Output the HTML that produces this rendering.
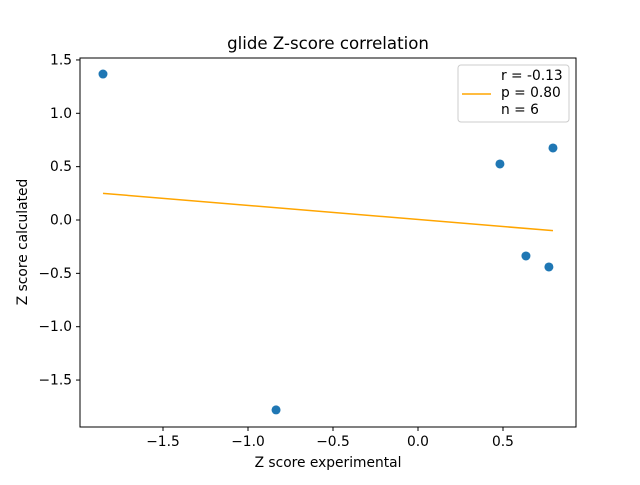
<!DOCTYPE html>
<html><head><meta charset="utf-8"><style>body{margin:0;background:#fff}svg{font-family:"DejaVu Sans","Liberation Sans",sans-serif}</style></head>
<body>
<svg id="chart" width="640" height="480">
<rect width="640" height="480" fill="#fff"/>
<text x="328" y="49" font-size="16.6" text-anchor="middle">glide Z-score correlation</text>
<g id="plot"></g>
<rect x="80" y="58" width="496" height="369" fill="none" stroke="#000" stroke-width="1"/>
<text x="328" y="467" font-size="13.8" text-anchor="middle">Z score experimental</text>
<text transform="translate(27,242) rotate(-90)" font-size="13.8" text-anchor="middle">Z score calculated</text>
<g>
<rect x="458" y="65" width="111" height="57" rx="3" fill="#fff" stroke="#ccc"/>
<line x1="462" y1="94" x2="491" y2="94" stroke="orange" stroke-width="1.5"/>
<text x="501" y="80" font-size="13.8">r = -0.13</text>
<text x="501" y="97" font-size="13.8">p = 0.80</text>
<text x="501" y="114" font-size="13.8">n = 6</text>
</g>
</svg>
<script>
const xs = [-1.853, -0.835, 0.482, 0.635, 0.77, 0.794];
const ys = [1.368, -1.78, 0.525, -0.337, -0.44, 0.675];
const fitX = [-1.853, 0.794];
const fitY = [0.25, -0.10];
const xTicks = [-1.5, -1.0, -0.5, 0.0, 0.5];
const yTicks = [-1.5, -1.0, -0.5, 0.0, 0.5, 1.0, 1.5];
const X = v => 418 + v * 170;
const Y = v => 220 - v * 106.7;
const NS = "http://www.w3.org/2000/svg";
const g = document.getElementById('plot');
function mk(t, a) { const e = document.createElementNS(NS, t); for (const k in a) e.setAttribute(k, a[k]); g.appendChild(e); return e; }
xTicks.forEach(v => {
  const l = mk('line', {x1: X(v), x2: X(v), y1: 427, y2: 431, stroke: '#000'});
  
  
  const t = mk('text', {x: X(v), y: 446, 'font-size': 13.8, 'text-anchor': 'middle'});
  t.textContent = v.toFixed(1).replace('-', '\u2212');
  
  
});
yTicks.forEach(v => {
  const l = mk('line', {x1: 76, x2: 80, y1: Y(v), y2: Y(v), stroke: '#000'});
  
  
  const t = mk('text', {x: 72, y: Y(v) + 4.5, 'font-size': 13.8, 'text-anchor': 'end'});
  t.textContent = v.toFixed(1).replace('-', '\u2212');
  
  
});
const fl = mk('line', {x1: X(fitX[0]), y1: Y(fitY[0]), x2: X(fitX[1]), y2: Y(fitY[1]), stroke: 'orange', 'stroke-width': 1.5});


xs.forEach((v, i) => {
  const c = mk('circle', {cx: X(v), cy: Y(ys[i]), r: 4.5, fill: '#1f77b4'});
  
  
});
</script>
</body></html>
